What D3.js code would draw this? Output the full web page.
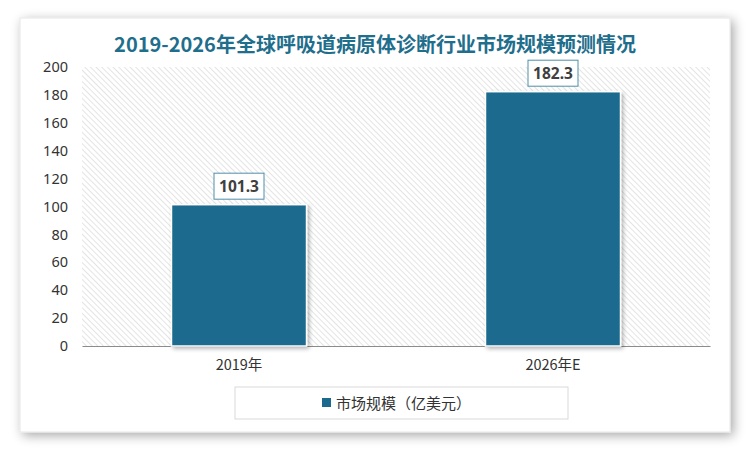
<!DOCTYPE html>
<html><head><meta charset="utf-8">
<script src="https://cdn.jsdelivr.net/npm/d3@7"></script>
<style>
html,body{margin:0;padding:0;background:#fff;}
svg{display:block;}
</style></head>
<body>
<svg id="chart" width="750" height="450"></svg>
<script>
const title = "2019-2026年全球呼吸道病原体诊断行业市场规模预测情况";
const categories = ["2019年", "2026年E"];
const values = [101.3, 182.3];
const seriesName = "市场规模（亿美元）";
const yTicks = [0, 20, 40, 60, 80, 100, 120, 140, 160, 180, 200];

const svg = d3.select("#chart");
const defs = svg.append("defs");

const shadow = defs.append("filter").attr("id","cardShadow").attr("x","-10%").attr("y","-10%").attr("width","120%").attr("height","120%");
shadow.append("feGaussianBlur").attr("in","SourceAlpha").attr("stdDeviation",6);
shadow.append("feOffset").attr("dx",3).attr("dy",3).attr("result","ob");
shadow.append("feComponentTransfer").append("feFuncA").attr("type","linear").attr("slope",0.35);
const m = shadow.append("feMerge"); m.append("feMergeNode"); m.append("feMergeNode").attr("in","SourceGraphic");

const barShadow = defs.append("filter").attr("id","barShadow").attr("x","-10%").attr("y","-10%").attr("width","125%").attr("height","125%");
barShadow.append("feGaussianBlur").attr("in","SourceAlpha").attr("stdDeviation",2);
barShadow.append("feOffset").attr("dx",2).attr("dy",2);
barShadow.append("feComponentTransfer").append("feFuncA").attr("type","linear").attr("slope",0.3);
const m2 = barShadow.append("feMerge"); m2.append("feMergeNode"); m2.append("feMergeNode").attr("in","SourceGraphic");

const pat = defs.append("pattern").attr("id","hatch").attr("patternUnits","userSpaceOnUse")
  .attr("width",4).attr("height",4).attr("patternTransform","rotate(-45)");
pat.append("rect").attr("width",4).attr("height",4).attr("fill","#fff");
pat.append("line").attr("x1",0).attr("y1",0).attr("x2",0).attr("y2",4).attr("stroke","#d9d9d9").attr("stroke-width",1.4);

// card
svg.append("rect").attr("x",20).attr("y",18).attr("width",710).attr("height",414)
  .attr("fill","#fff").attr("stroke","#e6e6e6").attr("filter","url(#cardShadow)");

svg.append("text").attr("x",375).attr("y",52).attr("text-anchor","middle")
  .attr("font-family","'Noto Sans CJK SC', sans-serif").attr("font-weight","bold")
  .attr("font-size",20).attr("fill","#1f6e8c").text(title);

const margin = {left:82, right:710, top:67, bottom:346};
const x = d3.scaleBand().domain(categories).range([margin.left, margin.right]).paddingInner(0.57).paddingOuter(0.285);
const y = d3.scaleLinear().domain([0,200]).range([margin.bottom, margin.top]);

svg.append("rect").attr("x",margin.left).attr("y",margin.top)
  .attr("width",margin.right-margin.left).attr("height",margin.bottom-margin.top).attr("fill","url(#hatch)");

// y axis
const yAxis = svg.append("g").attr("transform",`translate(${margin.left},0)`)
  .call(d3.axisLeft(y).tickValues(yTicks).tickSize(0).tickPadding(14));
yAxis.select(".domain").remove();
yAxis.selectAll("text").attr("font-family","'Noto Sans', sans-serif").attr("font-size",14.5).attr("fill","#333");

// x axis
const xAxis = svg.append("g").attr("transform",`translate(0,${margin.bottom})`)
  .call(d3.axisBottom(x).tickSize(0).tickPadding(14));
xAxis.select(".domain").attr("stroke","#8c8c8c").attr("stroke-width",1.2);
xAxis.selectAll("text").attr("font-family","'Noto Sans CJK SC', sans-serif").attr("font-size",14.5).attr("fill","#333");

// bars
svg.append("g").selectAll("rect").data(values).join("rect")
  .attr("x",(d,i)=>x(categories[i])).attr("y",d=>y(d))
  .attr("width",x.bandwidth()).attr("height",d=>y(0)-y(d))
  .attr("fill","#1b6a8e").attr("stroke","#fff").attr("stroke-width",1.5)
  .attr("filter","url(#barShadow)");

// labels
const lg = svg.append("g").selectAll("g").data(values).join("g")
  .attr("transform",(d,i)=>`translate(${x(categories[i])+x.bandwidth()/2},${y(d)-18.5})`);
lg.append("rect").attr("x",-25).attr("y",-13).attr("width",50).attr("height",26)
  .attr("fill","#fff").attr("stroke","#4f8fa8").attr("stroke-width",1);
lg.append("text").attr("text-anchor","middle").attr("dy","0.36em")
  .attr("font-family","'Noto Sans', sans-serif").attr("font-weight","bold").attr("font-size",15.5)
  .attr("fill","#404040").text(d=>d.toFixed(1));

// legend
svg.append("rect").attr("x",235).attr("y",387).attr("width",333).attr("height",32)
  .attr("fill","#fff").attr("stroke","#d9d9d9").attr("stroke-width",1);
svg.append("rect").attr("x",322).attr("y",398).attr("width",9).attr("height",9).attr("fill","#1b6a8e");
svg.append("text").attr("x",336).attr("y",408.5)
  .attr("font-family","'Noto Sans CJK SC', sans-serif").attr("font-size",15).attr("fill","#333").text(seriesName);
</script>
</body></html>
